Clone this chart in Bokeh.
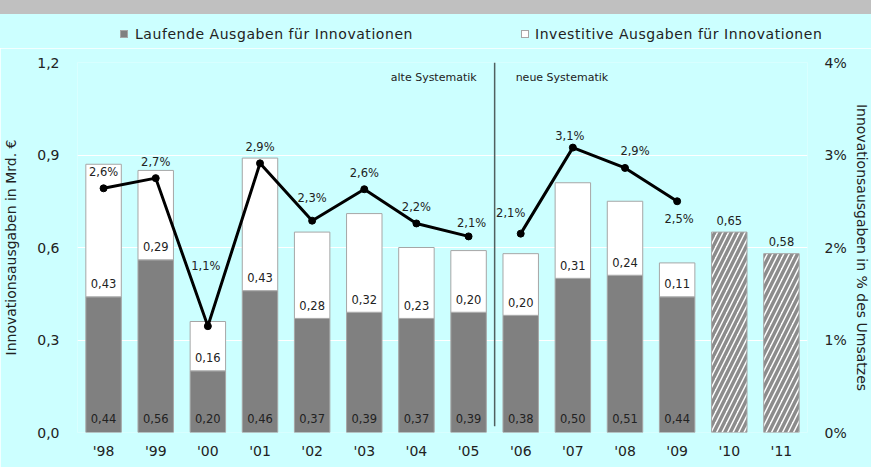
from bokeh.plotting import figure
from bokeh.models import (ColumnDataSource, Range1d, LinearAxis, FixedTicker,
                          CustomJSTickFormatter, Div)
from bokeh.layouts import column
from bokeh.core.properties import value
from bokeh.embed import file_html
from bokeh.resources import INLINE

# ---------------- data ----------------
years = ["'98", "'99", "'00", "'01", "'02", "'03", "'04", "'05", "'06", "'07", "'08", "'09", "'10", "'11"]
laufend = [0.44, 0.56, 0.20, 0.46, 0.37, 0.39, 0.37, 0.39, 0.38, 0.50, 0.51, 0.44]
investiv = [0.43, 0.29, 0.16, 0.43, 0.28, 0.32, 0.23, 0.20, 0.20, 0.31, 0.24, 0.11]
plan_years = ["'10", "'11"]
plan_total = [0.65, 0.58]
anteil_alt = [2.64, 2.75, 1.15, 2.91, 2.29, 2.63, 2.26, 2.12]
anteil_neu = [2.15, 3.08, 2.86, 2.50]
anteil_lbl_alt = ["2,6%", "2,7%", "1,1%", "2,9%", "2,3%", "2,6%", "2,2%", "2,1%"]
anteil_lbl_neu = ["2,1%", "3,1%", "2,9%", "2,5%"]
legend_labels = ["Laufende Ausgaben für Innovationen", "Investitive Ausgaben für Innovationen"]
y_ticks = [0, 0.3, 0.6, 0.9, 1.2]
pct_ticks = [0, 1, 2, 3, 4]

# label placement (screen px) for the percentage labels
lbl_dx = [0, 0, -2, 0, 0, 0, 0, 3, -10, -3, 10, 2]
lbl_dy = [-16, -16, -60, -16, -23, -16, -16, -13, -21, -12, -17, 18]

# ---------------- style ----------------
CYAN = "#CCFFFF"
DARK = "#808080"
EDGE = "#A6A6A6"
TXT = "#222222"
FONT = "DejaVu Sans"
BW = 0.68
LEFT, FRAME_W, RIGHT = 72, 730, 60
TOTAL_W = LEFT + FRAME_W + RIGHT
HDR_H = 48

def fmt(v):
    return f"{v:.2f}".replace(".", ",")

n_act = len(laufend)
n_alt = len(anteil_alt)
x_act = list(range(n_act))
x_plan = [years.index(y) for y in plan_years]

src = ColumnDataSource(dict(
    x=x_act, lauf=laufend, inv=investiv,
    top=[a + b for a, b in zip(laufend, investiv)],
    lauf_lbl=[fmt(v) for v in laufend],
    inv_lbl=[fmt(v) for v in investiv],
))
plan_src = ColumnDataSource(dict(x=x_plan, top=plan_total, lbl=[fmt(v) for v in plan_total]))
pct_src = ColumnDataSource(dict(
    x=x_act, y=anteil_alt + anteil_neu, lbl=anteil_lbl_alt + anteil_lbl_neu,
    dx=lbl_dx, dy=lbl_dy,
))

# ---------------- header strip (grey band + legend), HTML ----------------
def swatch(left, fill):
    return ('<div style="position:absolute;left:%dpx;top:30px;width:8px;height:8px;'
            'border:1px solid %s;background:%s;"></div>' % (left, EDGE, fill))

def ltext(left, label):
    return ('<div style="position:absolute;left:%dpx;top:25px;line-height:18px;'
            "font-family:'DejaVu Sans',sans-serif;letter-spacing:0.55px;"
            'font-size:14px;color:%s;white-space:nowrap;">%s</div>' % (left, TXT, label))

hdr_html = (
    '<div style="position:relative;width:%dpx;height:%dpx;background:%s;overflow:hidden;">' % (TOTAL_W + 10, HDR_H, CYAN)
    + '<div style="position:absolute;left:0;top:0;width:%dpx;height:14px;background:#C0C0C0;"></div>' % (TOTAL_W + 10)
    + swatch(120, DARK) + ltext(135, legend_labels[0])
    + swatch(521, "white") + ltext(535, legend_labels[1])
    + '</div>'
)
hdr = Div(text=hdr_html, width=TOTAL_W, height=HDR_H, margin=(0, 0, 0, 0))

# ---------------- main chart ----------------
p = figure(frame_width=FRAME_W, frame_height=370,
           x_range=Range1d(-0.5, len(years) - 0.5), y_range=Range1d(0, 1.2),
           output_backend="svg", toolbar_location=None,
           min_border_left=LEFT, min_border_right=RIGHT, min_border_top=14, min_border_bottom=35,
           background_fill_color=CYAN, border_fill_color=CYAN, outline_line_color=None,
           margin=(0, 0, 0, 0))
p.extra_y_ranges = {"pct": Range1d(0, 4)}

# bars
p.vbar(x="x", bottom=0, top="lauf", width=BW, fill_color=DARK, line_color=EDGE, source=src)
p.vbar(x="x", bottom="lauf", top="top", width=BW, fill_color="white", line_color=EDGE, source=src)
p.vbar(x="x", bottom=0, top="top", width=BW, fill_color="white", line_color=EDGE,
       hatch_pattern="/", hatch_color="#8C8C8C", hatch_weight=3.5, hatch_scale=11, source=plan_src)

# bar labels
common = dict(text_align="center", text_baseline="middle", text_font=value(FONT),
              text_font_size="11.5px", text_color=TXT)
p.text(x="x", y=0, text="lauf_lbl", y_offset=-14, source=src, **common)
p.text(x="x", y="lauf", text="inv_lbl", y_offset=-13, source=src, **common)
p.text(x="x", y="top", text="lbl", y_offset=-12, source=plan_src, **common)

# separator between old and new methodology
sep_x = n_alt - 0.5
p.segment(x0=[sep_x], y0=[0.02], x1=[sep_x], y1=[1.2], line_color="#506060", line_width=1.5)
p.text(x=[sep_x], y=[1.2], text=["alte Systematik"], x_offset=-18, y_offset=15,
       text_align="right", text_baseline="middle", text_font=value(FONT),
       text_font_size="11px", text_color=TXT)
p.text(x=[sep_x], y=[1.2], text=["neue Systematik"], x_offset=21, y_offset=15,
       text_align="left", text_baseline="middle", text_font=value(FONT),
       text_font_size="11px", text_color=TXT)

# percentage line (broken between the two methodologies)
p.line(x=x_act[:n_alt], y=anteil_alt, y_range_name="pct", line_color="black", line_width=3)
p.line(x=x_act[n_alt:], y=anteil_neu, y_range_name="pct", line_color="black", line_width=3)
p.scatter(x="x", y="y", y_range_name="pct", size=7, color="black", source=pct_src)
p.text(x="x", y="y", text="lbl", y_range_name="pct", x_offset="dx", y_offset="dy",
       source=pct_src, **common)

# axes
ya = p.yaxis[0]
ya.ticker = FixedTicker(ticks=y_ticks)
ya.formatter = CustomJSTickFormatter(code="return tick.toFixed(1).replace('.', ',');")
ya.axis_label = "Innovationsausgaben in Mrd. €"

xa = p.xaxis[0]
xa.ticker = FixedTicker(ticks=list(range(len(years))))
xa.major_label_overrides = {i: y for i, y in enumerate(years)}

ra = LinearAxis(y_range_name="pct", ticker=FixedTicker(ticks=pct_ticks),
                formatter=CustomJSTickFormatter(code="return tick + '%';"),
                axis_label="Innovationsausgaben in % des Umsatzes")
p.add_layout(ra, "right")

for ax in (ya, xa, ra):
    ax.axis_line_color = None
    ax.major_tick_line_color = None
    ax.minor_tick_line_color = None
    ax.major_tick_out = 0
    ax.major_tick_in = 0
    ax.major_label_text_font = FONT
    ax.major_label_text_font_size = "14px"
    ax.major_label_text_color = TXT
    ax.axis_label_text_font = FONT
    ax.axis_label_text_font_size = "14px"
    ax.axis_label_text_font_style = "normal"
    ax.axis_label_text_color = TXT
ya.major_label_standoff = 18
ya.axis_label_standoff = 15
ra.major_label_standoff = 17
ra.axis_label_standoff = 4
xa.major_label_standoff = 10

p.ygrid.grid_line_color = "white"
p.ygrid.grid_line_width = 1
p.xgrid.grid_line_color = None

layout = column(hdr, p, spacing=0)

open("out.html", "w").write(file_html(layout, INLINE))
